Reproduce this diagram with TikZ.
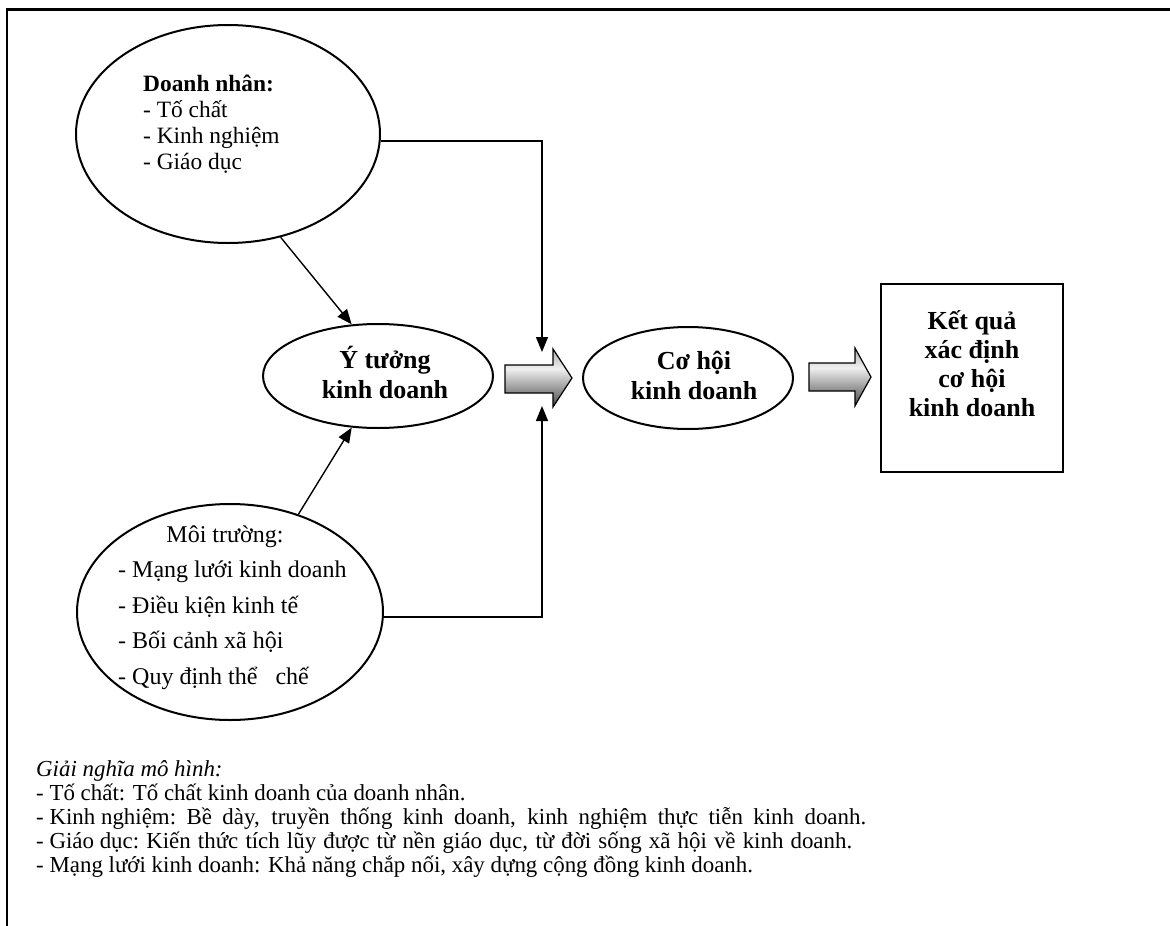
\documentclass[tikz,border=0pt]{standalone}
\usepackage{fontspec}
\setmainfont{Liberation Serif}
\usetikzlibrary{arrows.meta,shapes.geometric}
\pgfdeclareverticalshading{barrowshade}{100bp}{color(0bp)=(black!72); color(25bp)=(black!72); color(58bp)=(black!6); color(75bp)=(black!32); color(100bp)=(black!32)}
\tikzset{
  oval/.style={draw, ellipse, line width=2pt, inner sep=0pt},
  arr/.style={line width=1.4pt, -{Triangle[length=15pt,width=12pt]}},
  blockarrow/.style={draw, line width=1.2pt, shading=barrowshade, line join=miter},
  ovaltext/.style={inner sep=0pt, align=left},
  boldtext/.style={inner sep=0pt, align=center, font=\bfseries\fontsize{26}{30}\selectfont},
  legline/.style={inner sep=0pt, anchor=base west, font=\fontsize{22.9}{24}\selectfont},
}
\begin{document}
\begin{tikzpicture}[x=1pt,y=-1pt]
\useasboundingbox (0,0) rectangle (1170,926);
% frame
\draw[line width=2.5pt] (7,926) -- (7,9.5) -- (1170,9.5);

% nodes
\node[oval, minimum width=304pt, minimum height=218pt] (dn) at (228,134) {};
\node[ovaltext, anchor=west, font=\fontsize{23.4}{26}\selectfont] (dnText) at (143,124)
  {\textbf{Doanh nhân:}\\- Tố chất\\- Kinh nghiệm\\- Giáo dục};

\node[oval, minimum width=306pt, minimum height=216pt] (mt) at (230,612) {};
\node[inner sep=0pt, font=\fontsize{24}{35.5}\selectfont] (mtTitle) at (225,537) {Môi trường:};
\node[ovaltext, anchor=west, font=\fontsize{24}{35.5}\selectfont] (mtList) at (118,625)
  {- Mạng lưới kinh doanh\\- Điều kiện kinh tế\\- Bối cảnh xã hội\\- Quy định thể\hspace{0.75em}chế};

\node[oval, minimum width=230pt, minimum height=104pt] (yt) at (378,376) {};
\node[boldtext] (ytText) at (385,372) {Ý tưởng\\kinh doanh};

\node[oval, minimum width=210pt, minimum height=102pt] (ch) at (688,378) {};
\node[boldtext] (chText) at (694,375) {Cơ hội\\kinh doanh};

\node[draw, line width=2.5pt, minimum width=182pt, minimum height=188pt, inner sep=0pt] (kq) at (972,378) {};
\node[boldtext, font=\bfseries\fontsize{26}{29}\selectfont] (kqText) at (972,364) {Kết quả\\xác định\\cơ hội\\kinh doanh};

% connectors
\coordinate (in1) at (542,352);
\coordinate (in2) at (542,406);
\draw[arr] (dn.-63) -- (yt.117);
\draw[arr] (mt.55) -- (yt.243);
\draw[arr] ([yshift=-7pt]dn.east) -| (in1);
\draw[arr] ([yshift=-5pt]mt.east) -| (in2);

% block arrows
\draw[blockarrow] (505,365) -- (553,365) -- (553,349) -- (572,378) -- (553,407) -- (553,393) -- (505,393) -- cycle;
\draw[blockarrow] (809,363) -- (855,363) -- (855,348) -- (871,377) -- (855,406) -- (855,391) -- (809,391) -- cycle;

% legend
\node[legline] (leg0) at (36,776) {\textit{Giải nghĩa mô hình:}};
\node[legline] (leg1) at (36,800) {- Tố chất: Tố chất kinh doanh của doanh nhân.};
\node[legline] (leg2) at (36,824) {\makebox[830pt][s]{\mbox{- Kinh nghiệm:} Bề dày, truyền thống kinh doanh, kinh nghiệm thực tiễn kinh doanh.}};
\node[legline] (leg3) at (36,848) {\makebox[816pt][s]{\mbox{- Giáo dục:} Kiến thức tích lũy được từ nền giáo dục, từ đời sống xã hội về kinh doanh.}};
\node[legline] (leg4) at (36,872) {- Mạng lưới kinh doanh: Khả năng chắp nối, xây dựng cộng đồng kinh doanh.};
\end{tikzpicture}
\end{document}
